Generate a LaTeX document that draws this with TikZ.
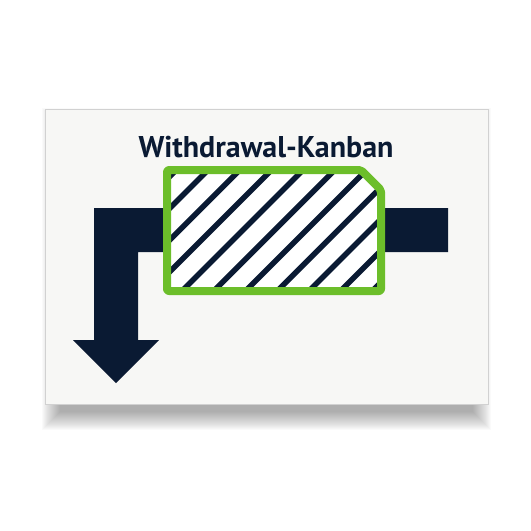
\documentclass[tikz,border=0pt]{standalone}
\usepackage{fontspec}
\setmainfont{PT Sans}
\usepackage{tikz}
\usepackage{xcolor}
\definecolor{navy}{HTML}{0A1A33}
\definecolor{kgreen}{HTML}{6CBE2A}
\definecolor{cardbg}{HTML}{F7F7F5}
\begin{document}
\begin{tikzpicture}[x=1pt,y=-1pt]
\useasboundingbox (0,0) rectangle (531,531);
% Shadow under the card
\foreach \s in {0,...,18}
  \fill[black, opacity=0.02] (60-\s,126-\s) rectangle (473+\s,412+\s);

% Card
\fill[cardbg] (45,109) rectangle (488,404);
\draw[black!18, line width=0.8] (45,109) rectangle (488,404);

% Withdrawal arrow (bar to the right, bends down)
\fill[navy] (94,208) -- (448,208) -- (448,252) -- (138,252) -- (138,340)
  -- (159,340) -- (116,383) -- (73,340) -- (94,340) -- cycle;

% Kanban card with hatching
\fill[white] (167,170) -- (361,170) -- (381,190) -- (381,291) -- (167,291) -- cycle;
\begin{scope}
  \clip (167,170) -- (361,170) -- (381,190) -- (381,291) -- (167,291) -- cycle;
  \foreach \c in {346.3,378,...,700}
    \draw[navy, line width=5.5] (\c-150,150) -- (\c-310,310);
\end{scope}
\draw[kgreen, line width=8, rounded corners=2, line join=round]
  (167,170) -- (361,170) -- (381,190) -- (381,291) -- (167,291) -- cycle;

\node[navy, anchor=base, inner sep=0, font=\bfseries\fontsize{30}{36}\selectfont] (title) at (266,157) {Withdrawal-Kanban};
\end{tikzpicture}
\end{document}
